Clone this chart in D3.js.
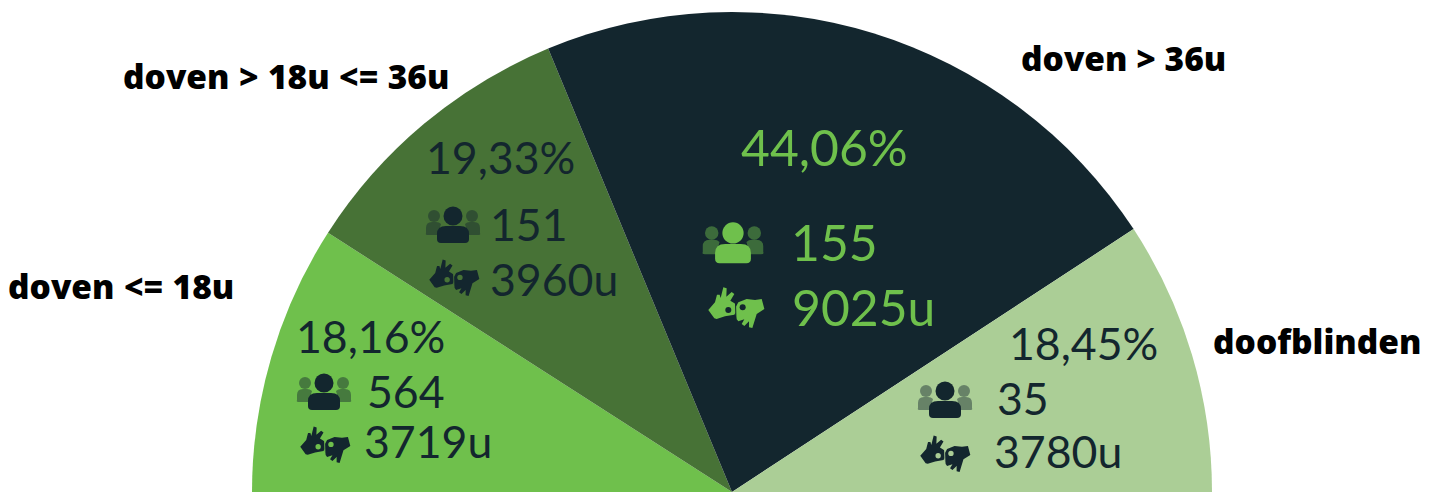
<!DOCTYPE html>
<html><head><meta charset="utf-8">
<script src="https://cdn.jsdelivr.net/npm/d3@7"></script>
<style>html,body{margin:0;padding:0;background:#fff;overflow:hidden}svg{display:block}</style>
</head><body><svg id="c" width="1437" height="493"></svg>
<script>
const categories=["doven <= 18u","doven > 18u <= 36u","doven > 36u","doofblinden"];
const shares=[18.16,19.33,44.06,18.45];
const people=[564,151,155,35];
const hours=[3719,3960,9025,3780];
const colors=["#6fc04c","#477236","#13262e","#abce96"];
const textColors=["#13262e","#13262e","#6fc04c","#13262e"];
const fmt=d=>d.toFixed(2).replace(".",",")+"%";
const svg=d3.select("#c");
const cx=732,cy=492,R=480;
const pie=d3.pie().sort(null).startAngle(-Math.PI/2).endAngle(Math.PI/2);
const arc=d3.arc().innerRadius(0).outerRadius(R);
const g=svg.append("g").attr("transform",`translate(${cx},${cy})`);
g.selectAll("path").data(pie(shares)).join("path").attr("d",arc).attr("fill",(d,i)=>colors[i]);
const layout=[
 {lab:[8,287],pct:[296,338],ppl:[367,393],hrs:[364,443],i1:[324,392,1],i2:[325,445,1],fs:44.6,ws:0.7},
 {lab:[123,77],pct:[426,159],ppl:[490,226],hrs:[490,281],i1:[453,225,1],i2:[454,278,1],fs:44.6,ws:0.7},
 {lab:[1021,59],pct:[741,150],ppl:[791,245],hrs:[792,310],i1:[733,243,1.12],i2:[736,308,1.12],fs:49.8,ws:0},
 {lab:[1213,342],pct:[1009,345],ppl:[997,400],hrs:[994,453],i1:[945,400,1],i2:[945,454,1],fs:44.6,ws:0}];
function drawIconPeople(x,y,s,c){
 const p=svg.append("g").attr("transform",`translate(${x},${y}) scale(${s})`).attr("fill",c);
 p.append("circle").attr("cx",-19).attr("cy",-9).attr("r",6).attr("opacity",.45);
 p.append("circle").attr("cx",19).attr("cy",-9).attr("r",6).attr("opacity",.45);
 p.append("path").attr("d","M-27,8 q-1,2 2,2 h10 l3,-11 q-2,-2 -5,-2 h-4 q-6,0 -6,6 z").attr("opacity",.45);
 p.append("path").attr("d","M27,8 q1,2 -2,2 h-10 l-3,-11 q2,-2 5,-2 h4 q6,0 6,6 z").attr("opacity",.45);
 p.append("circle").attr("cx",0).attr("cy",-9).attr("r",9.5);
 p.append("path").attr("d","M-16,14 q0,4 4,4 h24 q4,0 4,-4 v-5 q0,-8 -9,-8 h-14 q-9,0 -9,8 z");
}
const handsPath="M10,78 L30,55 L36,32 L44,32 L47,42 L55,10 L65,13 L64,38 L80,24 L88,30 L76,50 L92,60 L95,80 L88,92 L60,97 L35,105 L28,103 Z M170,45 L178,75 L155,90 L142,132 L132,130 L132,112 L118,126 L110,120 L118,106 L100,112 L94,104 L92,90 L92,70 L100,55 L125,45 L150,48 Z";
function drawIconHands(x,y,s,c,bg){
 const p=svg.append("g").attr("transform",`translate(${x},${y}) scale(${s*0.298}) translate(-93,-72)`).attr("fill",c);
 p.append("path").attr("d",handsPath);
 p.append("line").attr("x1",91).attr("y1",45).attr("x2",93).attr("y2",105).attr("stroke",bg).attr("stroke-width",3);
 p.append("circle").attr("cx",70).attr("cy",78).attr("r",9).attr("fill",bg);
 p.append("circle").attr("cx",113).attr("cy",70).attr("r",9).attr("fill",bg);
}
layout.forEach((l,i)=>{
 svg.append("text").attr("x",l.lab[0]).attr("y",l.lab[1]+12).text(categories[i]).attr("font-family","'Open Sans'").attr("font-weight",800).attr("font-size",33.5).attr("word-spacing",l.ws).attr("fill","#000");
 const t=(a,s)=>svg.append("text").attr("x",a[0]).attr("y",a[1]+l.fs*0.33).text(s).attr("font-family","Lato").attr("font-size",l.fs).attr("fill",textColors[i]);
 t(l.pct,fmt(shares[i]));t(l.ppl,people[i]);t(l.hrs,hours[i]+"u");
 drawIconPeople(l.i1[0],l.i1[1],l.i1[2],textColors[i]);
 drawIconHands(l.i2[0],l.i2[1],l.i2[2],textColors[i],colors[i]);
});
</script></body></html>
